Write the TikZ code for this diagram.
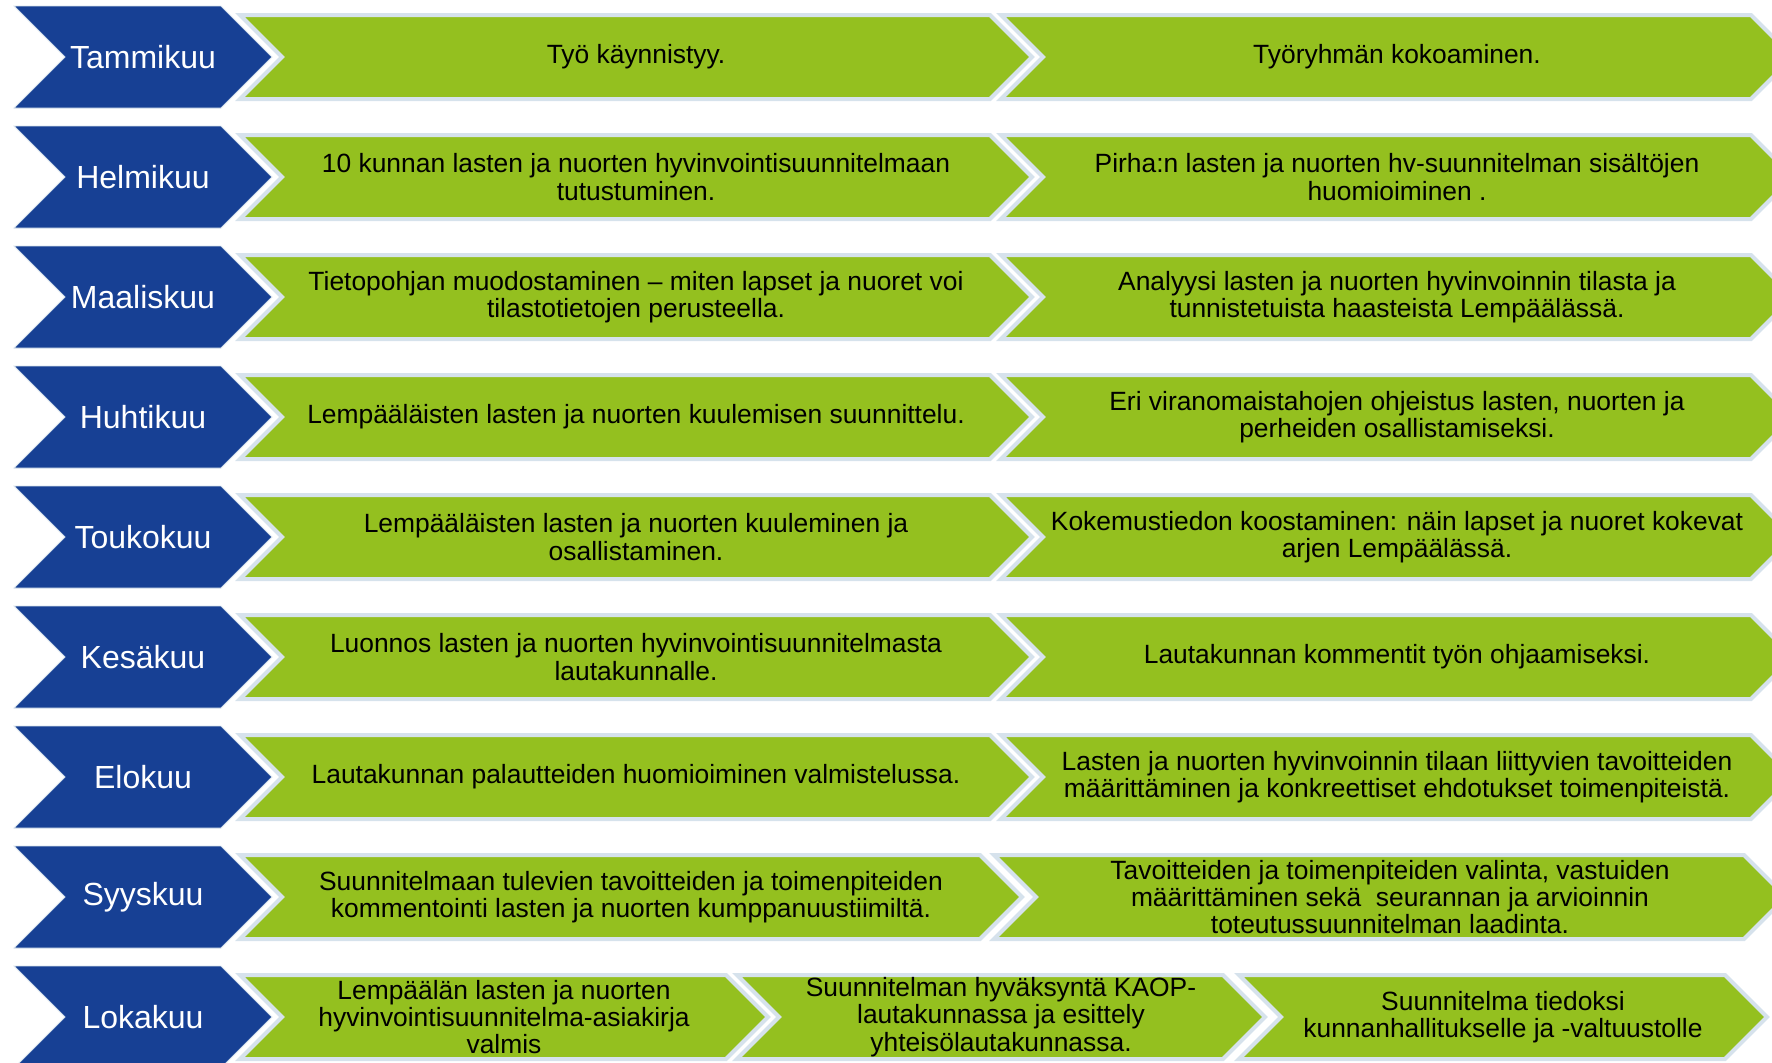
\documentclass[tikz,border=0pt]{standalone}
\usepackage{fontspec}
\setmainfont{Liberation Sans}
\usepackage{tikz}
\usetikzlibrary{shapes.symbols}

\definecolor{kuublue}{RGB}{23,64,148}
\definecolor{kuugreen}{RGB}{148,192,31}
\definecolor{kuuedge}{RGB}{214,226,236}

\begin{document}
\begin{tikzpicture}[x=0.5pt, y=-0.5pt,
        month/.style={signal, signal from=west, signal to=east, fill=kuublue, draw=kuuedge, line width=0.4pt,
            text=white, minimum height=51pt, minimum width=129pt, inner sep=0pt, font=\fontsize{16}{19}\selectfont},
        task/.style={signal, signal from=west, signal to=east, fill=kuugreen, draw=kuuedge, line width=2pt,
            text=black, minimum height=42pt, inner sep=0pt, align=center, font=\fontsize{13.2}{13.6}\selectfont},
        wide/.style={task, minimum width=396pt},
        short/.style={task, minimum width=264pt}]
        \useasboundingbox (0,0) rectangle (1772,1062);

        % Months
        \node[month] (jan) at (143,57) {Tammikuu};
        \node[month] (feb) at (143,177) {Helmikuu};
        \node[month] (mar) at (143,297) {Maaliskuu};
        \node[month] (apr) at (143,417) {Huhtikuu};
        \node[month] (may) at (143,537) {Toukokuu};
        \node[month] (jun) at (143,657) {Kesäkuu};
        \node[month] (aug) at (143,777) {Elokuu};
        \node[month] (sep) at (143,897) {Syyskuu};
        \node[month] (oct) at (143,1017) {Lokakuu};

        % Tasks
        \node[wide] (jan1) at (636,57) {Työ käynnistyy.};
        \node[wide] (jan2) at (1397,57) {Työryhmän kokoaminen.};

        \node[wide] (feb1) at (636,177) {10 kunnan lasten ja nuorten hyvinvointisuunnitelmaan\\tutustuminen.};
        \node[wide] (feb2) at (1397,177) {Pirha:n lasten ja nuorten hv-suunnitelman sisältöjen\\huomioiminen .};

        \node[wide] (mar1) at (636,297) {Tietopohjan muodostaminen – miten lapset ja nuoret voi\\tilastotietojen perusteella.};
        \node[wide] (mar2) at (1397,297) {Analyysi lasten ja nuorten hyvinvoinnin tilasta ja\\tunnistetuista haasteista Lempäälässä.};

        \node[wide] (apr1) at (636,417) {Lempääläisten lasten ja nuorten kuulemisen suunnittelu.};
        \node[wide] (apr2) at (1397,417) {Eri viranomaistahojen ohjeistus lasten, nuorten ja\\perheiden osallistamiseksi.};

        \node[wide] (may1) at (636,537) {Lempääläisten lasten ja nuorten kuuleminen ja\\osallistaminen.};
        \node[wide] (may2) at (1397,537) {Kokemustiedon koostaminen: näin lapset ja nuoret kokevat\\arjen Lempäälässä.};

        \node[wide] (jun1) at (636,657) {Luonnos lasten ja nuorten hyvinvointisuunnitelmasta\\lautakunnalle.};
        \node[wide] (jun2) at (1397,657) {Lautakunnan kommentit työn ohjaamiseksi.};

        \node[wide] (aug1) at (636,777) {Lautakunnan palautteiden huomioiminen valmistelussa.};
        \node[wide] (aug2) at (1397,777) {Lasten ja nuorten hyvinvoinnin tilaan liittyvien tavoitteiden\\määrittäminen ja konkreettiset ehdotukset toimenpiteistä.};

        \node[wide, minimum width=391pt] (sep1) at (631,897) {Suunnitelmaan tulevien tavoitteiden ja toimenpiteiden\\kommentointi lasten ja nuorten kumppanuustiimiltä.};
        \node[wide] (sep2) at (1390,897) {Tavoitteiden ja toimenpiteiden valinta, vastuiden\\määrittäminen sekä~ seurannan ja arvioinnin\\toteutussuunnitelman laadinta.};

        \node[short] (oct1) at (504,1017) {Lempäälän lasten ja nuorten\\hyvinvointisuunnitelma-asiakirja\\valmis};
        \node[short] (oct2) at (1001,1017) {Suunnitelman hyväksyntä KAOP-\\lautakunnassa ja esittely\\yhteisölautakunnassa.};
        \node[short] (oct3) at (1503,1017) {Suunnitelma tiedoksi\\kunnanhallitukselle ja -valtuustolle};
    \end{tikzpicture}
\end{document}
